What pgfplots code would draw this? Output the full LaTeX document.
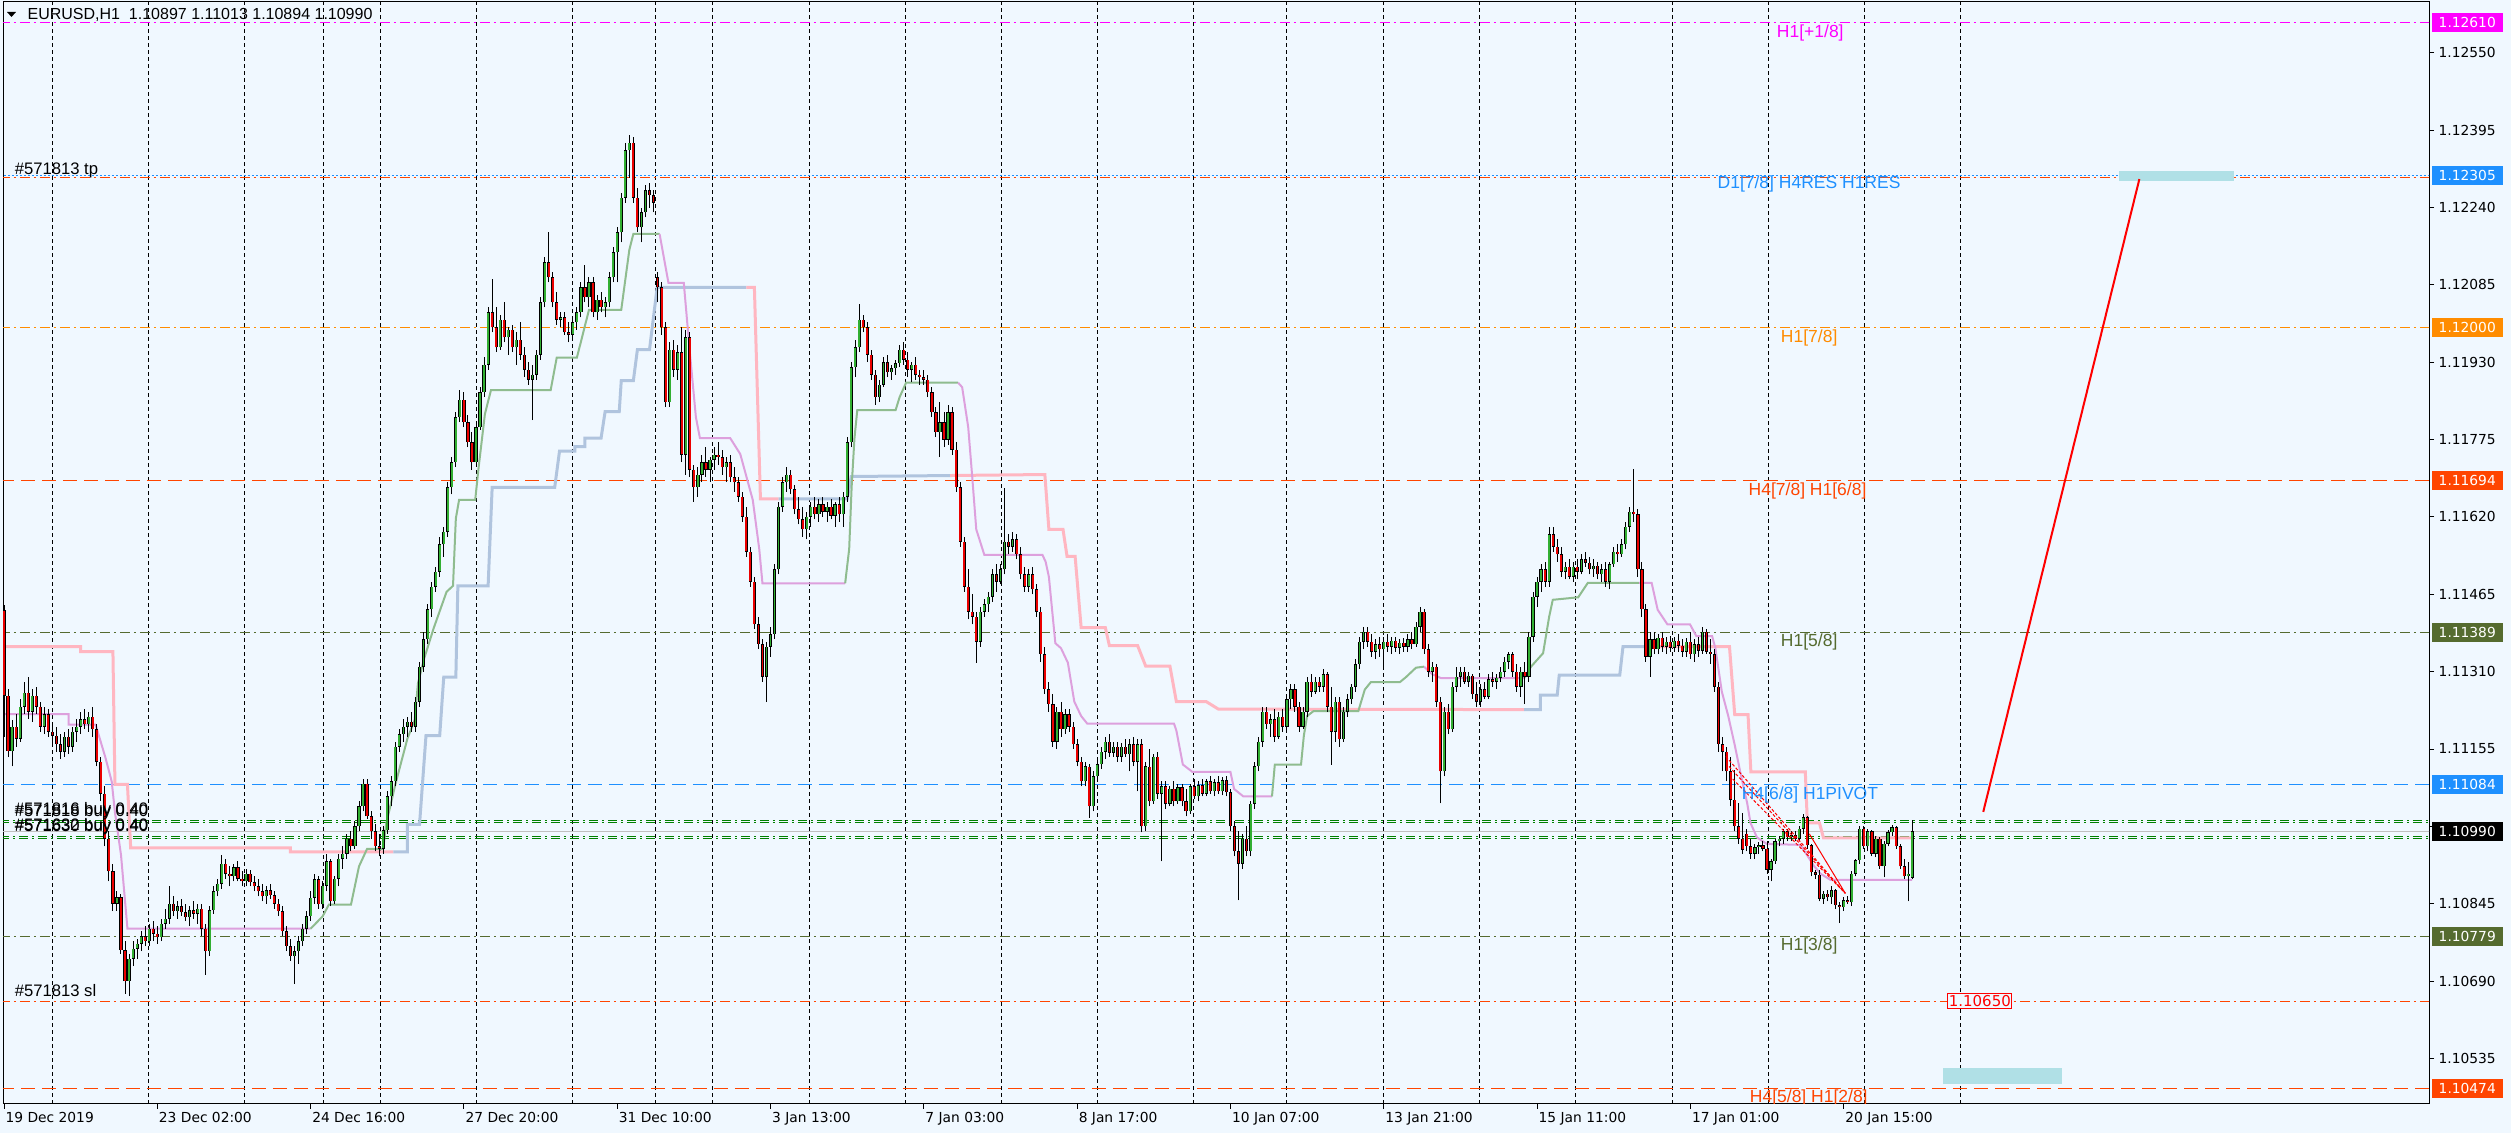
\documentclass[border=0pt]{standalone}
\usepackage{pgfplots}
\pgfplotsset{compat=1.18}
\usepackage{pgfplotstable}
\usepackage{fontspec}
\setmainfont{Liberation Sans}
\newfontfamily\dvs{DejaVu Sans}
\newlength\pxu \setlength\pxu{0.3pt}
\definecolor{bg}{HTML}{F0F8FF}
\definecolor{mtmag}{HTML}{FF00FF}
\definecolor{mtblue}{HTML}{1E90FF}
\definecolor{mtorr}{HTML}{FF4500}
\definecolor{mtorange}{HTML}{FF8C00}
\definecolor{mtolive}{HTML}{556B2F}
\definecolor{mtgreen}{HTML}{008000}
\definecolor{mtpink}{HTML}{FFB6C1}
\definecolor{mtsteel}{HTML}{B0C4DE}
\definecolor{mtplum}{HTML}{DDA0DD}
\definecolor{mtsea}{HTML}{8FBC8F}
\definecolor{bull}{RGB}{50,175,50}
\definecolor{bear}{RGB}{235,0,0}
\definecolor{cyanbox}{HTML}{B0E0E6}
\definecolor{bidgrey}{HTML}{C0C0C0}
\newcommand{\fsax}{\dvs\fontsize{4.14}{5}\selectfont}
\newcommand{\fsl}{\fontsize{5.25}{6}\selectfont}
\newcommand{\fsm}{\fontsize{5.0}{6}\selectfont}

\pgfplotstableread{
x o h l c
0 1.11433 1.11443 1.11180 1.11262
1 1.11262 1.11275 1.11139 1.11151
2 1.11151 1.11213 1.11120 1.11200
3 1.11200 1.11225 1.11160 1.11176
4 1.11176 1.11255 1.11170 1.11240
5 1.11240 1.11290 1.11225 1.11268
6 1.11268 1.11299 1.11215 1.11230
7 1.11230 1.11275 1.11210 1.11262
8 1.11262 1.11280 1.11225 1.11240
9 1.11240 1.11250 1.11190 1.11200
10 1.11200 1.11240 1.11185 1.11225
11 1.11225 1.11235 1.11180 1.11190
12 1.11190 1.11210 1.11160 1.11182
13 1.11182 1.11200 1.11150 1.11165
14 1.11165 1.11185 1.11135 1.11150
15 1.11150 1.11190 1.11140 1.11180
16 1.11180 1.11195 1.11145 1.11160
17 1.11160 1.11200 1.11150 1.11190
18 1.11190 1.11215 1.11170 1.11200
19 1.11200 1.11230 1.11185 1.11215
20 1.11215 1.11235 1.11195 1.11205
21 1.11205 1.11230 1.11190 1.11220
22 1.11220 1.11240 1.11180 1.11195
23 1.11195 1.11205 1.11120 1.11130
24 1.11130 1.11140 1.11050 1.11065
25 1.11065 1.11080 1.10960 1.10975
26 1.10975 1.10990 1.10890 1.10910
27 1.10910 1.10925 1.10830 1.10845
28 1.10845 1.10870 1.10830 1.10858
29 1.10858 1.10865 1.10745 1.10752
30 1.10752 1.10770 1.10665 1.10690
31 1.10690 1.10745 1.10660 1.10735
32 1.10735 1.10770 1.10720 1.10755
33 1.10755 1.10775 1.10735 1.10765
34 1.10765 1.10790 1.10750 1.10780
35 1.10780 1.10800 1.10760 1.10770
36 1.10770 1.10805 1.10760 1.10795
37 1.10795 1.10810 1.10770 1.10785
38 1.10785 1.10800 1.10765 1.10778
39 1.10778 1.10815 1.10770 1.10805
40 1.10805 1.10835 1.10795 1.10815
41 1.10815 1.10880 1.10805 1.10845
42 1.10845 1.10860 1.10820 1.10830
43 1.10830 1.10850 1.10815 1.10840
44 1.10840 1.10855 1.10820 1.10828
45 1.10828 1.10845 1.10810 1.10818
46 1.10818 1.10840 1.10800 1.10832
47 1.10832 1.10850 1.10815 1.10825
48 1.10825 1.10845 1.10805 1.10835
49 1.10835 1.10845 1.10780 1.10795
50 1.10795 1.10805 1.10703 1.10750
51 1.10750 1.10840 1.10740 1.10832
52 1.10832 1.10880 1.10825 1.10870
53 1.10870 1.10895 1.10860 1.10885
54 1.10885 1.10943 1.10875 1.10925
55 1.10925 1.10935 1.10895 1.10905
56 1.10905 1.10920 1.10880 1.10900
57 1.10900 1.10925 1.10890 1.10918
58 1.10918 1.10930 1.10890 1.10895
59 1.10895 1.10910 1.10880 1.10890
60 1.10890 1.10915 1.10880 1.10905
61 1.10905 1.10912 1.10880 1.10888
62 1.10888 1.10900 1.10870 1.10880
63 1.10880 1.10895 1.10860 1.10870
64 1.10870 1.10885 1.10850 1.10860
65 1.10860 1.10880 1.10845 1.10872
66 1.10872 1.10885 1.10855 1.10862
67 1.10862 1.10870 1.10835 1.10845
68 1.10845 1.10855 1.10820 1.10830
69 1.10830 1.10840 1.10780 1.10790
70 1.10790 1.10800 1.10750 1.10760
71 1.10760 1.10775 1.10730 1.10740
72 1.10740 1.10760 1.10685 1.10750
73 1.10750 1.10780 1.10725 1.10770
74 1.10770 1.10805 1.10760 1.10795
75 1.10795 1.10830 1.10785 1.10820
76 1.10820 1.10870 1.10810 1.10857
77 1.10857 1.10905 1.10845 1.10894
78 1.10894 1.10900 1.10835 1.10844
79 1.10844 1.10890 1.10835 1.10881
80 1.10881 1.10945 1.10870 1.10930
81 1.10930 1.10935 1.10840 1.10850
82 1.10850 1.10900 1.10845 1.10895
83 1.10895 1.10945 1.10880 1.10935
84 1.10935 1.10960 1.10915 1.10945
85 1.10945 1.10985 1.10935 1.10975
86 1.10975 1.10990 1.10950 1.10960
87 1.10960 1.11010 1.10955 1.11000
88 1.11000 1.11050 1.10990 1.11040
89 1.11040 1.11095 1.11030 1.11085
90 1.11085 1.11095 1.11015 1.11020
91 1.11020 1.11030 1.10975 1.10990
92 1.10990 1.11005 1.10950 1.10960
93 1.10960 1.10985 1.10940 1.10955
94 1.10955 1.11000 1.10945 1.10992
95 1.10992 1.11070 1.10985 1.11060
96 1.11060 1.11100 1.11040 1.11090
97 1.11090 1.11170 1.11080 1.11160
98 1.11160 1.11195 1.11150 1.11185
99 1.11185 1.11215 1.11170 1.11200
100 1.11200 1.11220 1.11180 1.11210
101 1.11210 1.11230 1.11190 1.11200
102 1.11200 1.11260 1.11190 1.11250
103 1.11250 1.11330 1.11240 1.11320
104 1.11320 1.11390 1.11310 1.11375
105 1.11375 1.11445 1.11365 1.11435
106 1.11435 1.11490 1.11420 1.11480
107 1.11480 1.11520 1.11470 1.11510
108 1.11510 1.11580 1.11500 1.11565
109 1.11565 1.11600 1.11540 1.11590
110 1.11590 1.11690 1.11580 1.11680
111 1.11680 1.11740 1.11665 1.11730
112 1.11730 1.11830 1.11720 1.11820
113 1.11820 1.11875 1.11810 1.11855
114 1.11855 1.11870 1.11800 1.11810
115 1.11810 1.11825 1.11760 1.11770
116 1.11770 1.11790 1.11715 1.11730
117 1.11730 1.11810 1.11725 1.11800
118 1.11800 1.11880 1.11795 1.11870
119 1.11870 1.11940 1.11860 1.11925
120 1.11925 1.12040 1.11915 1.12030
121 1.12030 1.12096 1.11990 1.12000
122 1.12000 1.12040 1.11950 1.11960
123 1.11960 1.12025 1.11955 1.12015
124 1.12015 1.12050 1.11970 1.11980
125 1.11980 1.12000 1.11945 1.11995
126 1.11995 1.12005 1.11950 1.11960
127 1.11960 1.11990 1.11925 1.11975
128 1.11975 1.12010 1.11935 1.11945
129 1.11945 1.11960 1.11900 1.11915
130 1.11915 1.11930 1.11885 1.11895
131 1.11895 1.11925 1.11814 1.11905
132 1.11905 1.11955 1.11895 1.11945
133 1.11945 1.12060 1.11935 1.12050
134 1.12050 1.12140 1.12040 1.12130
135 1.12130 1.12190 1.12090 1.12100
136 1.12100 1.12110 1.12040 1.12050
137 1.12050 1.12070 1.12005 1.12015
138 1.12015 1.12030 1.12000 1.12020
139 1.12020 1.12030 1.11985 1.11990
140 1.11990 1.12010 1.11970 1.11985
141 1.11985 1.12020 1.11975 1.12010
142 1.12010 1.12040 1.11995 1.12030
143 1.12030 1.12090 1.12020 1.12080
144 1.12080 1.12125 1.12050 1.12060
145 1.12060 1.12100 1.12040 1.12090
146 1.12090 1.12100 1.12020 1.12030
147 1.12030 1.12065 1.12015 1.12055
148 1.12055 1.12070 1.12030 1.12040
149 1.12040 1.12060 1.12020 1.12050
150 1.12050 1.12110 1.12040 1.12100
151 1.12100 1.12160 1.12090 1.12150
152 1.12150 1.12200 1.12090 1.12190
153 1.12190 1.12270 1.12170 1.12260
154 1.12260 1.12370 1.12250 1.12355
155 1.12355 1.12385 1.12300 1.12370
156 1.12370 1.12382 1.12250 1.12260
157 1.12260 1.12280 1.12190 1.12200
158 1.12200 1.12240 1.12170 1.12230
159 1.12230 1.12285 1.12220 1.12275
160 1.12275 1.12290 1.12240 1.12265
161 1.12265 1.12275 1.12230 1.12250
162 1.12100 1.12110 1.12050 1.12080
163 1.12080 1.12090 1.11985 1.12000
164 1.12000 1.12010 1.11840 1.11850
165 1.11850 1.11970 1.11840 1.11955
166 1.11955 1.11975 1.11900 1.11915
167 1.11915 1.11965 1.11895 1.11950
168 1.11950 1.12000 1.11730 1.11745
169 1.11745 1.11995 1.11705 1.11980
170 1.11980 1.11990 1.11700 1.11715
171 1.11715 1.11725 1.11650 1.11680
172 1.11680 1.11720 1.11660 1.11705
173 1.11705 1.11745 1.11690 1.11730
174 1.11730 1.11760 1.11700 1.11715
175 1.11715 1.11740 1.11690 1.11735
176 1.11735 1.11760 1.11715 1.11745
177 1.11745 1.11770 1.11725 1.11740
178 1.11740 1.11755 1.11705 1.11720
179 1.11720 1.11740 1.11690 1.11730
180 1.11730 1.11745 1.11690 1.11700
181 1.11700 1.11720 1.11670 1.11690
182 1.11690 1.11700 1.11650 1.11660
183 1.11660 1.11670 1.11610 1.11620
184 1.11620 1.11640 1.11540 1.11550
185 1.11550 1.11560 1.11480 1.11490
186 1.11490 1.11500 1.11395 1.11405
187 1.11405 1.11420 1.11355 1.11365
188 1.11365 1.11375 1.11290 1.11300
189 1.11300 1.11370 1.11249 1.11360
190 1.11360 1.11400 1.11340 1.11385
191 1.11385 1.11525 1.11375 1.11515
192 1.11515 1.11650 1.11505 1.11640
193 1.11640 1.11700 1.11630 1.11690
194 1.11690 1.11720 1.11670 1.11705
195 1.11705 1.11715 1.11665 1.11675
196 1.11675 1.11685 1.11625 1.11635
197 1.11635 1.11660 1.11605 1.11615
198 1.11615 1.11640 1.11580 1.11595
199 1.11595 1.11630 1.11575 1.11620
200 1.11620 1.11650 1.11600 1.11640
201 1.11640 1.11660 1.11615 1.11625
202 1.11625 1.11655 1.11610 1.11645
203 1.11645 1.11660 1.11620 1.11630
204 1.11630 1.11650 1.11610 1.11640
205 1.11640 1.11655 1.11615 1.11622
206 1.11622 1.11650 1.11600 1.11645
207 1.11645 1.11660 1.11610 1.11625
208 1.11625 1.11670 1.11600 1.11660
209 1.11660 1.11780 1.11650 1.11770
210 1.11770 1.11930 1.11760 1.11920
211 1.11920 1.11975 1.11900 1.11960
212 1.11960 1.12047 1.11950 1.12015
213 1.12015 1.12025 1.11990 1.12000
214 1.12000 1.12010 1.11930 1.11945
215 1.11945 1.11955 1.11895 1.11905
216 1.11905 1.11915 1.11845 1.11860
217 1.11860 1.11895 1.11850 1.11885
218 1.11885 1.11940 1.11880 1.11930
219 1.11930 1.11945 1.11900 1.11910
220 1.11910 1.11925 1.11895 1.11918
221 1.11918 1.11935 1.11905 1.11928
222 1.11928 1.11965 1.11920 1.11955
223 1.11955 1.11970 1.11925 1.11935
224 1.11935 1.11950 1.11900 1.11915
225 1.11915 1.11930 1.11890 1.11925
226 1.11925 1.11940 1.11895 1.11905
227 1.11905 1.11915 1.11885 1.11900
228 1.11900 1.11915 1.11885 1.11895
229 1.11895 1.11905 1.11860 1.11870
230 1.11870 1.11880 1.11820 1.11830
231 1.11830 1.11840 1.11780 1.11790
232 1.11790 1.11850 1.11740 1.11810
233 1.11810 1.11830 1.11760 1.11775
234 1.11775 1.11845 1.11765 1.11830
235 1.11830 1.11840 1.11745 1.11755
236 1.11755 1.11770 1.11670 1.11680
237 1.11680 1.11690 1.11560 1.11570
238 1.11570 1.11580 1.11470 1.11480
239 1.11480 1.11515 1.11415 1.11430
240 1.11430 1.11465 1.11405 1.11420
241 1.11420 1.11430 1.11328 1.11370
242 1.11370 1.11440 1.11360 1.11430
243 1.11430 1.11455 1.11420 1.11445
244 1.11445 1.11470 1.11430 1.11460
245 1.11460 1.11515 1.11450 1.11505
246 1.11505 1.11525 1.11470 1.11490
247 1.11490 1.11525 1.11485 1.11515
248 1.11515 1.11677 1.11505 1.11570
249 1.11570 1.11585 1.11545 1.11560
250 1.11560 1.11590 1.11550 1.11575
251 1.11575 1.11585 1.11535 1.11545
252 1.11545 1.11560 1.11495 1.11505
253 1.11505 1.11520 1.11470 1.11480
254 1.11480 1.11515 1.11470 1.11505
255 1.11505 1.11520 1.11465 1.11475
256 1.11475 1.11485 1.11420 1.11430
257 1.11430 1.11440 1.11330 1.11345
258 1.11345 1.11360 1.11265 1.11275
259 1.11275 1.11290 1.11230 1.11245
260 1.11245 1.11265 1.11160 1.11170
261 1.11170 1.11240 1.11155 1.11230
262 1.11230 1.11250 1.11180 1.11195
263 1.11195 1.11235 1.11185 1.11225
264 1.11225 1.11235 1.11190 1.11200
265 1.11200 1.11210 1.11155 1.11165
266 1.11165 1.11175 1.11120 1.11130
267 1.11130 1.11140 1.11080 1.11090
268 1.11090 1.11130 1.11080 1.11120
269 1.11120 1.11125 1.11017 1.11040
270 1.11040 1.11110 1.11030 1.11100
271 1.11100 1.11135 1.11090 1.11125
272 1.11125 1.11160 1.11115 1.11150
273 1.11150 1.11180 1.11135 1.11170
274 1.11170 1.11185 1.11140 1.11148
275 1.11148 1.11170 1.11140 1.11160
276 1.11160 1.11170 1.11130 1.11140
277 1.11140 1.11168 1.11130 1.11160
278 1.11160 1.11175 1.11140 1.11145
279 1.11145 1.11175 1.11110 1.11165
280 1.11165 1.11180 1.11120 1.11130
281 1.11130 1.11175 1.11070 1.11165
282 1.11165 1.11175 1.10988 1.11000
283 1.11000 1.11130 1.10990 1.11120
284 1.11120 1.11155 1.11040 1.11050
285 1.11050 1.11145 1.11045 1.11140
286 1.11140 1.11150 1.11055 1.11065
287 1.11065 1.11090 1.10930 1.11080
288 1.11080 1.11090 1.11035 1.11045
289 1.11045 1.11080 1.11040 1.11075
290 1.11075 1.11090 1.11040 1.11050
291 1.11050 1.11085 1.11045 1.11078
292 1.11078 1.11085 1.11040 1.11050
293 1.11050 1.11075 1.11020 1.11030
294 1.11030 1.11085 1.11025 1.11080
295 1.11080 1.11095 1.11055 1.11060
296 1.11060 1.11090 1.11050 1.11082
297 1.11082 1.11095 1.11060 1.11065
298 1.11065 1.11095 1.11060 1.11090
299 1.11090 1.11100 1.11065 1.11070
300 1.11070 1.11095 1.11060 1.11088
301 1.11088 1.11100 1.11065 1.11070
302 1.11070 1.11098 1.11062 1.11092
303 1.11092 1.11100 1.11060 1.11068
304 1.11068 1.11075 1.10990 1.11000
305 1.11000 1.11010 1.10940 1.10950
306 1.10950 1.10990 1.10852 1.10925
307 1.10925 1.10985 1.10915 1.10975
308 1.10975 1.11000 1.10940 1.10950
309 1.10950 1.11050 1.10940 1.11045
310 1.11045 1.11130 1.11035 1.11120
311 1.11120 1.11180 1.11110 1.11170
312 1.11170 1.11240 1.11160 1.11230
313 1.11230 1.11240 1.11195 1.11205
314 1.11205 1.11225 1.11180 1.11215
315 1.11215 1.11235 1.11170 1.11180
316 1.11180 1.11230 1.11175 1.11220
317 1.11220 1.11235 1.11190 1.11200
318 1.11200 1.11265 1.11195 1.11255
319 1.11255 1.11285 1.11235 1.11275
320 1.11275 1.11285 1.11230 1.11240
321 1.11240 1.11250 1.11190 1.11200
322 1.11200 1.11240 1.11195 1.11230
323 1.11230 1.11300 1.11220 1.11290
324 1.11290 1.11305 1.11260 1.11270
325 1.11270 1.11300 1.11265 1.11290
326 1.11290 1.11300 1.11270 1.11280
327 1.11280 1.11315 1.11270 1.11305
328 1.11305 1.11310 1.11230 1.11240
329 1.11240 1.11280 1.11124 1.11190
330 1.11190 1.11260 1.11170 1.11250
331 1.11250 1.11260 1.11160 1.11175
332 1.11175 1.11240 1.11170 1.11230
333 1.11230 1.11265 1.11220 1.11255
334 1.11255 1.11285 1.11245 1.11280
335 1.11280 1.11335 1.11270 1.11325
336 1.11325 1.11380 1.11315 1.11370
337 1.11370 1.11400 1.11355 1.11390
338 1.11390 1.11400 1.11360 1.11370
339 1.11370 1.11385 1.11340 1.11350
340 1.11350 1.11375 1.11335 1.11365
341 1.11365 1.11380 1.11340 1.11355
342 1.11355 1.11380 1.11320 1.11370
343 1.11370 1.11385 1.11350 1.11360
344 1.11360 1.11380 1.11345 1.11372
345 1.11372 1.11380 1.11350 1.11358
346 1.11358 1.11375 1.11345 1.11368
347 1.11368 1.11378 1.11350 1.11360
348 1.11360 1.11385 1.11350 1.11375
349 1.11375 1.11390 1.11355 1.11365
350 1.11365 1.11410 1.11360 1.11400
351 1.11400 1.11440 1.11390 1.11430
352 1.11430 1.11435 1.11345 1.11355
353 1.11355 1.11365 1.11300 1.11310
354 1.11310 1.11330 1.11290 1.11320
355 1.11320 1.11325 1.11240 1.11250
356 1.11250 1.11260 1.11046 1.11110
357 1.11110 1.11240 1.11100 1.11230
358 1.11230 1.11245 1.11185 1.11195
359 1.11195 1.11290 1.11190 1.11280
360 1.11280 1.11320 1.11270 1.11300
361 1.11300 1.11320 1.11280 1.11310
362 1.11310 1.11320 1.11285 1.11290
363 1.11290 1.11310 1.11280 1.11302
364 1.11302 1.11305 1.11255 1.11265
365 1.11265 1.11290 1.11240 1.11250
366 1.11250 1.11285 1.11240 1.11275
367 1.11275 1.11290 1.11255 1.11260
368 1.11260 1.11305 1.11255 1.11295
369 1.11295 1.11310 1.11280 1.11290
370 1.11290 1.11305 1.11275 1.11298
371 1.11298 1.11320 1.11290 1.11310
372 1.11310 1.11340 1.11300 1.11330
373 1.11330 1.11350 1.11315 1.11345
374 1.11345 1.11350 1.11300 1.11310
375 1.11310 1.11325 1.11270 1.11280
376 1.11280 1.11320 1.11260 1.11310
377 1.11310 1.11330 1.11245 1.11300
378 1.11300 1.11390 1.11290 1.11380
379 1.11380 1.11470 1.11370 1.11460
380 1.11460 1.11500 1.11440 1.11490
381 1.11490 1.11525 1.11470 1.11515
382 1.11515 1.11530 1.11480 1.11490
383 1.11490 1.11600 1.11480 1.11585
384 1.11585 1.11600 1.11550 1.11560
385 1.11560 1.11575 1.11530 1.11545
386 1.11545 1.11560 1.11500 1.11510
387 1.11510 1.11530 1.11495 1.11520
388 1.11520 1.11535 1.11495 1.11500
389 1.11500 1.11530 1.11490 1.11520
390 1.11520 1.11535 1.11495 1.11510
391 1.11510 1.11545 1.11505 1.11535
392 1.11535 1.11550 1.11520 1.11528
393 1.11528 1.11540 1.11505 1.11515
394 1.11515 1.11535 1.11500 1.11522
395 1.11522 1.11530 1.11495 1.11505
396 1.11505 1.11525 1.11490 1.11515
397 1.11515 1.11530 1.11480 1.11490
398 1.11490 1.11530 1.11475 1.11525
399 1.11525 1.11560 1.11520 1.11550
400 1.11550 1.11565 1.11530 1.11545
401 1.11545 1.11575 1.11540 1.11565
402 1.11565 1.11610 1.11555 1.11600
403 1.11600 1.11640 1.11590 1.11630
404 1.11630 1.11716 1.11610 1.11625
405 1.11625 1.11635 1.11500 1.11515
406 1.11515 1.11530 1.11420 1.11435
407 1.11435 1.11445 1.11330 1.11340
408 1.11340 1.11390 1.11300 1.11375
409 1.11375 1.11390 1.11345 1.11355
410 1.11355 1.11385 1.11345 1.11378
411 1.11378 1.11390 1.11350 1.11360
412 1.11360 1.11380 1.11345 1.11370
413 1.11370 1.11382 1.11350 1.11358
414 1.11358 1.11380 1.11350 1.11372
415 1.11372 1.11385 1.11350 1.11362
416 1.11362 1.11375 1.11340 1.11350
417 1.11350 1.11378 1.11340 1.11370
418 1.11370 1.11390 1.11335 1.11345
419 1.11345 1.11375 1.11330 1.11365
420 1.11365 1.11380 1.11340 1.11352
421 1.11352 1.11400 1.11345 1.11390
422 1.11390 1.11396 1.11345 1.11350
423 1.11350 1.11375 1.11325 1.11345
424 1.11345 1.11355 1.11270 1.11280
425 1.11280 1.11290 1.11150 1.11165
426 1.11165 1.11180 1.11110 1.11150
427 1.11150 1.11160 1.11090 1.11110
428 1.11110 1.11140 1.11040 1.11053
429 1.11053 1.11113 1.10990 1.11000
430 1.11000 1.11046 1.10965 1.10975
431 1.10975 1.11026 1.10945 1.10953
432 1.10985 1.10995 1.10950 1.10960
433 1.10960 1.10975 1.10935 1.10945
434 1.10945 1.10965 1.10935 1.10958
435 1.10958 1.10968 1.10945 1.10962
436 1.10962 1.10970 1.10950 1.10955
437 1.10955 1.10970 1.10905 1.10913
438 1.10913 1.10935 1.10890 1.10930
439 1.10930 1.10975 1.10925 1.10970
440 1.10970 1.10980 1.10960 1.10975
441 1.10975 1.10995 1.10965 1.10990
442 1.10990 1.10995 1.10970 1.10978
443 1.10978 1.10990 1.10970 1.10982
444 1.10982 1.10990 1.10970 1.10975
445 1.10975 1.11000 1.10970 1.10995
446 1.10995 1.11025 1.10985 1.11018
447 1.11018 1.11020 1.10955 1.10962
448 1.10962 1.10965 1.10900 1.10908
449 1.10908 1.10912 1.10895 1.10903
450 1.10903 1.10912 1.10850 1.10855
451 1.10855 1.10870 1.10845 1.10865
452 1.10865 1.10872 1.10850 1.10858
453 1.10858 1.10880 1.10845 1.10872
454 1.10872 1.10875 1.10835 1.10842
455 1.10842 1.10848 1.10806 1.10838
456 1.10838 1.10858 1.10830 1.10852
457 1.10852 1.10860 1.10845 1.10848
458 1.10848 1.10910 1.10840 1.10905
459 1.10905 1.10935 1.10900 1.10932
460 1.10932 1.11000 1.10925 1.10995
461 1.10995 1.11000 1.10955 1.10960
462 1.10960 1.10995 1.10950 1.10990
463 1.10990 1.10992 1.10940 1.10945
464 1.10945 1.10980 1.10938 1.10975
465 1.10975 1.10978 1.10915 1.10920
466 1.10920 1.10970 1.10898 1.10965
467 1.10965 1.10992 1.10960 1.10988
468 1.10988 1.11002 1.10980 1.10998
469 1.10998 1.11000 1.10955 1.10960
470 1.10960 1.10965 1.10915 1.10920
471 1.10920 1.10935 1.10895 1.10900
472 1.10900 1.10928 1.10850 1.10905
473 1.10897 1.11013 1.10894 1.10990
}\candles

\begin{document}
\begin{tikzpicture}
\useasboundingbox (0,0) rectangle (2511\pxu,1133\pxu);
\fill[bg] (0,0) rectangle (2511\pxu,1133\pxu);
\begin{axis}[
  at={(3\pxu,29\pxu)}, anchor=south west,
  scale only axis, width=2426\pxu, height=1102\pxu,
  xmin=-0.248, xmax=601.1, ymin=1.104438, ymax=1.126518,
  axis background/.style={fill=bg},
  axis line style={black, line width=1\pxu},
  clip=true,
  xtick={0,38,76,114,152,190,228,266,304,342,380,418,456},
  xticklabels={19 Dec 2019,23 Dec 02:00,24 Dec 16:00,27 Dec 20:00,31 Dec 10:00,3 Jan 13:00,7 Jan 03:00,8 Jan 17:00,10 Jan 07:00,13 Jan 21:00,15 Jan 11:00,17 Jan 01:00,20 Jan 15:00},
  ytick={1.10535,1.10690,1.10845,1.11000,1.11155,1.11310,1.11465,1.11620,1.11775,1.11930,1.12085,1.12240,1.12395,1.12550},
  yticklabels={1.10535,1.10690,1.10845,,1.11155,1.11310,1.11465,1.11620,1.11775,1.11930,1.12085,1.12240,1.12395,1.12550},
  scaled y ticks=false, scaled x ticks=false,
  xtick pos=bottom, ytick pos=right,
  tick align=outside, major tick length=5\pxu,
  tick style={black, line width=1\pxu},
  xticklabel style={font=\fsax, anchor=north west, inner sep=0pt, xshift=1\pxu, yshift=-3\pxu},
  yticklabel style={font=\fsax, anchor=west, inner sep=0pt, xshift=4\pxu},
  extra x ticks={11.9,35.7,59.5,79.3,93.2,117.0,140.8,161.6,175.5,199.6,223.4,247.2,271.0,294.8,318.0,341.9,365.7,389.5,413.5,437.3,461.1,484.9},
  extra x tick style={grid=major, tick style={draw=none}, xticklabel={}},
  major grid style={black, line width=1\pxu, dash pattern=on 4\pxu off 3\pxu},
]
% level lines
\addplot[forget plot, mtmag, line width=1\pxu, dash pattern=on 10\pxu off 4\pxu on 2\pxu off 4\pxu] coordinates {(-1,1.12610) (602,1.12610)};
\addplot[forget plot, mtblue, line width=1\pxu, dash pattern=on 2\pxu off 2\pxu] coordinates {(-1,1.12305) (602,1.12305)};
\addplot[forget plot, mtorr, line width=1\pxu, dash pattern=on 10\pxu off 4\pxu on 2\pxu off 4\pxu] coordinates {(-1,1.12300) (602,1.12300)};
\addplot[forget plot, mtorange, line width=1\pxu, dash pattern=on 10\pxu off 4\pxu on 2\pxu off 4\pxu] coordinates {(-1,1.12000) (602,1.12000)};
\addplot[forget plot, mtorr, line width=1\pxu, dash pattern=on 14\pxu off 7\pxu] coordinates {(-1,1.11694) (602,1.11694)};
\addplot[forget plot, mtolive, line width=1\pxu, dash pattern=on 10\pxu off 4\pxu on 2\pxu off 4\pxu] coordinates {(-1,1.11389) (602,1.11389)};
\addplot[forget plot, mtblue, line width=1\pxu, dash pattern=on 14\pxu off 7\pxu] coordinates {(-1,1.11084) (602,1.11084)};
\addplot[forget plot, mtgreen, line width=1\pxu, dash pattern=on 9\pxu off 4\pxu on 2\pxu off 4\pxu] coordinates {(-1,1.11011) (602,1.11011)};
\addplot[forget plot, mtgreen, line width=1\pxu, dash pattern=on 9\pxu off 4\pxu on 2\pxu off 4\pxu] coordinates {(-1,1.11007) (602,1.11007)};
\addplot[forget plot, bidgrey, line width=1\pxu] coordinates {(-1,1.10990) (602,1.10990)};
\addplot[forget plot, mtgreen, line width=1\pxu, dash pattern=on 9\pxu off 4\pxu on 2\pxu off 4\pxu] coordinates {(-1,1.10980) (602,1.10980)};
\addplot[forget plot, mtgreen, line width=1\pxu, dash pattern=on 9\pxu off 4\pxu on 2\pxu off 4\pxu] coordinates {(-1,1.10976) (602,1.10976)};
\addplot[forget plot, mtolive, line width=1\pxu, dash pattern=on 10\pxu off 4\pxu on 2\pxu off 4\pxu] coordinates {(-1,1.10779) (602,1.10779)};
\addplot[forget plot, mtorr, line width=1\pxu, dash pattern=on 10\pxu off 4\pxu on 2\pxu off 4\pxu] coordinates {(-1,1.10650) (602,1.10650)};
\addplot[forget plot, mtorr, line width=1\pxu, dash pattern=on 14\pxu off 7\pxu] coordinates {(-1,1.10474) (602,1.10474)};

% boxes
\addplot[forget plot, fill=cyanbox, draw=none] coordinates {(524.3,1.12293) (552.8,1.12293) (552.8,1.12313) (524.3,1.12313)} -- cycle;
\addplot[forget plot, fill=cyanbox, draw=none] coordinates {(480.7,1.10484) (510,1.10484) (510,1.10516) (480.7,1.10516)} -- cycle;

% indicator: pink / steel blue (thick)
\addplot[forget plot, mtpink, line width=3\pxu] coordinates {(0,1.11360) (19,1.11360) (19,1.11350) (27,1.11350) (27.5,1.11084) (30.6,1.11084) (31.4,1.10957) (71,1.10957) (71,1.10949) (96.5,1.10949)};
\addplot[forget plot, mtsteel, line width=3\pxu] coordinates {(96.5,1.10949) (100,1.10949) (100,1.11004) (103,1.11004) (104.6,1.11182) (108,1.11182) (109,1.11299) (112,1.11299) (112.5,1.11482) (120,1.11482) (121,1.11679) (136.5,1.11679) (137.7,1.11752) (141.5,1.11752) (141.5,1.11761) (144,1.11761) (144,1.11778) (148,1.11778) (149,1.11831) (152.5,1.11831) (153,1.11893) (156,1.11893) (157,1.11955) (160,1.11955) (161.9,1.12080) (184,1.12080)};
\addplot[forget plot, mtpink, line width=3\pxu] coordinates {(184,1.12080) (186,1.12080) (187.5,1.11656) (192,1.11656)};
\addplot[forget plot, mtsteel, line width=3\pxu] coordinates {(192,1.11656) (209,1.11656) (210,1.11701) (234.5,1.11703)};
\addplot[forget plot, mtpink, line width=3\pxu] coordinates {(234.5,1.11703) (258,1.11705) (259,1.11595) (262.5,1.11595) (263.5,1.11541) (265.5,1.11541) (267,1.11398) (273,1.11398) (274,1.11362) (281,1.11362) (283,1.11321) (289,1.11321) (290.6,1.11250) (298,1.11250) (301,1.11235) (376.8,1.11234)};
\addplot[forget plot, mtsteel, line width=3\pxu] coordinates {(376.8,1.11234) (380.8,1.11234) (380.8,1.11263) (385,1.11263) (385.5,1.11303) (400.5,1.11303) (401.3,1.11360) (407.6,1.11360)};
\addplot[forget plot, mtpink, line width=3\pxu] coordinates {(407.6,1.11360) (427.7,1.11360) (429,1.11224) (432.3,1.11224) (433,1.11109) (446.5,1.11109) (447,1.11007) (450,1.11007) (451,1.10977) (473,1.10977)};

% indicator: plum / sea green (thin)
\addplot[forget plot, mtplum, line width=2\pxu] coordinates {(0,1.11225) (16,1.11225) (16,1.11204) (22.7,1.11204) (25.1,1.11139) (26.7,1.11090) (27.5,1.11028) (29,1.10943) (30.6,1.10795) (76,1.10795)};
\addplot[forget plot, mtsea, line width=2\pxu] coordinates {(76,1.10795) (79,1.10820) (80.5,1.10843) (86,1.10843) (88,1.10920) (90,1.10955) (94,1.10955) (94.7,1.11004) (97,1.11084) (100,1.11176) (101.8,1.11213) (102.6,1.11286) (104.1,1.11335) (106.5,1.11397) (109.7,1.11470) (111.3,1.11482) (112,1.11617) (112.8,1.11654) (116.8,1.11654) (117.6,1.11716) (119.2,1.11826) (120.7,1.11874) (135.5,1.11874) (137,1.11939) (142,1.11939) (145,1.12035) (153,1.12035) (155,1.12155) (156,1.12187) (162.5,1.12187)};
\addplot[forget plot, mtplum, line width=2\pxu] coordinates {(162.5,1.12187) (164.7,1.12089) (168.5,1.12089) (170,1.11950) (171.5,1.11820) (172.5,1.11778) (180,1.11778) (182.5,1.11746) (185.6,1.11654) (187.2,1.11556) (188,1.11487) (208.5,1.11487)};
\addplot[forget plot, mtsea, line width=2\pxu] coordinates {(208.5,1.11487) (209.5,1.11556) (210.1,1.11679) (210.8,1.11777) (211.5,1.11834) (221,1.11834) (222,1.11860) (223.6,1.11889) (236.5,1.11889)};
\addplot[forget plot, mtplum, line width=2\pxu] coordinates {(236.5,1.11889) (237.5,1.11880) (239,1.11800) (240,1.11700) (241,1.11595) (243,1.11544) (257.4,1.11544) (258.2,1.11530) (259,1.11500) (260.6,1.11367) (262,1.11357) (263.7,1.11328) (265.3,1.11250) (267,1.11221) (268.5,1.11206) (290,1.11206) (290.6,1.11192) (292.2,1.11124) (294.6,1.11109) (304,1.11109) (304.9,1.11075) (307.2,1.11060) (314.3,1.11060)};
\addplot[forget plot, mtsea, line width=2\pxu] coordinates {(314.3,1.11060) (315,1.11124) (321.5,1.11124) (322.2,1.11182) (323,1.11221) (324.6,1.11231) (335.7,1.11231) (337.3,1.11274) (338.8,1.11289) (346,1.11289) (347.5,1.11299) (350,1.11318) (352,1.11320)};
\addplot[forget plot, mtplum, line width=2\pxu] coordinates {(352,1.11320) (354,1.11305) (356.2,1.11297) (376.8,1.11297)};
\addplot[forget plot, mtsea, line width=2\pxu] coordinates {(376.8,1.11297) (378.5,1.11320) (381.5,1.11347) (383,1.11420) (383.9,1.11454) (390.2,1.11459) (392.6,1.11488) (405.3,1.11488)};
\addplot[forget plot, mtplum, line width=2\pxu] coordinates {(405.3,1.11488) (408.4,1.11488) (409.9,1.11434) (412.3,1.11405) (417.9,1.11405) (419.5,1.11381) (423.4,1.11381) (424.2,1.11357) (425.8,1.11270) (427.4,1.11221) (429,1.11163) (430.5,1.11104) (432.1,1.11046) (432.9,1.11007) (434.5,1.10978) (436.9,1.10965) (445,1.10963) (445.6,1.10959) (447.2,1.10939) (448.7,1.10920) (450.3,1.10905) (452.7,1.10893) (473,1.10893)};

% candles: wicks
\addplot[forget plot, draw=none, mark=none, error bars/.cd, y dir=plus, y explicit, error mark=none,
  error bar style={draw=black, solid, line width=1\pxu}]
  table[x=x, y=l, y error plus expr={\thisrow{h}-\thisrow{l}}] {\candles};
% bodies: black outline
\addplot[forget plot, draw=none, mark=none, error bars/.cd, y dir=plus, y explicit, error mark=none,
  error bar style={draw=black, solid, line width=3.2\pxu}]
  table[x=x, y expr={min(\thisrow{o},\thisrow{c})}, y error plus expr={abs(\thisrow{c}-\thisrow{o})}] {\candles};
% bodies: bull fill
\addplot[forget plot, draw=none, mark=none, restrict x to domain=-10:700, error bars/.cd, y dir=plus, y explicit, error mark=none,
  error bar style={draw=bull, solid, line width=1.8\pxu}]
  table[x expr={\thisrow{c}>=\thisrow{o} ? \thisrow{x} : -50}, y expr={min(\thisrow{o},\thisrow{c})+0.00001}, y error plus expr={max(abs(\thisrow{c}-\thisrow{o})-0.00002,0)}] {\candles};
% bodies: bear fill
\addplot[forget plot, draw=none, mark=none, restrict x to domain=-10:700, error bars/.cd, y dir=plus, y explicit, error mark=none,
  error bar style={draw=bear, solid, line width=1.8\pxu}]
  table[x expr={\thisrow{c}<\thisrow{o} ? \thisrow{x} : -50}, y expr={min(\thisrow{o},\thisrow{c})+0.00001}, y error plus expr={max(abs(\thisrow{c}-\thisrow{o})-0.00002,0)}] {\candles};

% red trend lines
\addplot[forget plot, red, line width=1\pxu, dash pattern=on 3\pxu off 2\pxu] coordinates {(426.8,1.11140) (456.4,1.10866)};
\addplot[forget plot, red, line width=1\pxu, dash pattern=on 3\pxu off 2\pxu] coordinates {(427.6,1.11120) (456.4,1.10866)};
\addplot[forget plot, red, line width=1\pxu, dash pattern=on 3\pxu off 2\pxu] coordinates {(428.5,1.11095) (456.4,1.10866)};
\addplot[forget plot, red, line width=1\pxu] coordinates {(447.5,1.10985) (456.4,1.10866)};
\addplot[forget plot, red, line width=2\pxu] coordinates {(490.6,1.11029) (529.3,1.12297)};

% texts
\node[anchor=west, inner sep=0pt, text=mtmag, font=\fsl] at (axis cs:439.3,1.12590) {H1[+1/8]};
\node[anchor=west, inner sep=0pt, text=mtblue, font=\fsl] at (axis cs:424.6,1.12287) {D1[7/8] H4RES H1RES};
\node[anchor=west, inner sep=0pt, text=mtorange, font=\fsl] at (axis cs:440.3,1.11979) {H1[7/8]};
\node[anchor=west, inner sep=0pt, text=mtorr, font=\fsl] at (axis cs:432.3,1.11672) {H4[7/8] H1[6/8]};
\node[anchor=west, inner sep=0pt, text=mtolive, font=\fsl] at (axis cs:440.3,1.11370) {H1[5/8]};
\node[anchor=west, inner sep=0pt, text=mtblue, font=\fsl] at (axis cs:430.6,1.11063) {H4[6/8] H1PIVOT};
\node[anchor=west, inner sep=0pt, text=mtolive, font=\fsl] at (axis cs:440.3,1.10760) {H1[3/8]};
\node[anchor=west, inner sep=0pt, text=mtorr, font=\fsl] at (axis cs:432.6,1.10456) {H4[5/8] H1[2/8]};
\node[anchor=west, inner sep=0pt, text=black, font=\fsm] at (axis cs:2.5,1.12315) {\#571813 tp};
\node[anchor=west, inner sep=0pt, text=black, font=\fsm] at (axis cs:2.5,1.10672) {\#571813 sl};
\node[anchor=west, inner sep=0pt, text=black, font=\fsm] at (axis cs:2.5,1.11032) {\#571816 buy 0.40};
\node[anchor=west, inner sep=0pt, text=black, font=\fsm] at (axis cs:2.5,1.11029) {\#571818 buy 0.40};
\node[anchor=west, inner sep=0pt, text=black, font=\fsm] at (axis cs:2.5,1.11001) {\#571632 buy 0.40};
\node[anchor=west, inner sep=0pt, text=black, font=\fsm] at (axis cs:2.5,1.10998) {\#571630 buy 0.40};
\node[anchor=west, draw=red, fill=bg, text=red, line width=1\pxu, inner xsep=1\pxu, inner ysep=2\pxu, font=\dvs\fontsize{4.5}{5}\selectfont] at (axis cs:481.7,1.10650) {1.10650};

% anchors for price boxes
\coordinate (b1) at (axis cs:601.6,1.12610);
\coordinate (b2) at (axis cs:601.6,1.12305);
\coordinate (b3) at (axis cs:601.6,1.12000);
\coordinate (b4) at (axis cs:601.6,1.11694);
\coordinate (b5) at (axis cs:601.6,1.11389);
\coordinate (b6) at (axis cs:601.6,1.11084);
\coordinate (b7) at (axis cs:601.6,1.10990);
\coordinate (b8) at (axis cs:601.6,1.10779);
\coordinate (b9) at (axis cs:601.6,1.10474);
\end{axis}
\tikzset{pbox/.style={anchor=west, text=white, font=\fsax, inner xsep=7\pxu, inner ysep=0pt, minimum height=19\pxu}}
\node[pbox, fill=mtmag] at (b1) {1.12610};
\node[pbox, fill=mtblue] at (b2) {1.12305};
\node[pbox, fill=mtorange] at (b3) {1.12000};
\node[pbox, fill=mtorr] at (b4) {1.11694};
\node[pbox, fill=mtolive] at (b5) {1.11389};
\node[pbox, fill=mtblue] at (b6) {1.11084};
\node[pbox, fill=black] at (b7) {1.10990};
\node[pbox, fill=mtolive] at (b8) {1.10779};
\node[pbox, fill=mtorr] at (b9) {1.10474};
% header
\fill[black] (7\pxu,1121\pxu) -- (16\pxu,1121\pxu) -- (11.5\pxu,1116\pxu) -- cycle;
\node[anchor=west, inner sep=0pt, font=\fontsize{4.8}{6}\selectfont] at (27\pxu,1118\pxu) {EURUSD,H1\ \ 1.10897 1.11013 1.10894 1.10990};
\end{tikzpicture}
\end{document}
